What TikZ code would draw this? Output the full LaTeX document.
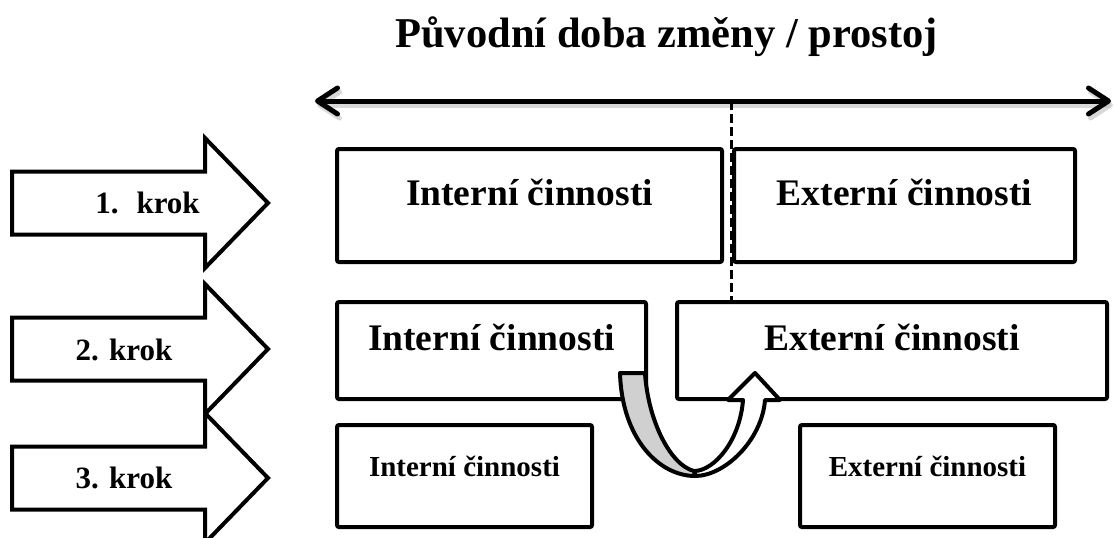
\documentclass[tikz,border=0pt]{standalone}
\usepackage{fontspec}
\setmainfont{Liberation Serif}
\usetikzlibrary{arrows.meta}
\definecolor{bandgray}{RGB}{208,208,208}
\definecolor{shadowgray}{RGB}{190,190,190}

\begin{document}
\begin{tikzpicture}[x=1pt,y=-1pt,
  box/.style={draw, line width=4pt, fill=white, rounded corners=2pt,
    inner sep=0pt, text height=0pt, text depth=0pt,
    font=\bfseries\fontsize{37.5}{40}\selectfont},
  smallbox/.style={box, font=\bfseries\fontsize{29}{32}\selectfont},
  stepshape/.style={draw, line width=4pt, fill=white, line join=miter},
  steplabel/.style={anchor=base, inner sep=0pt,
    font=\bfseries\fontsize{31}{34}\selectfont},
  barb/.tip={Straight Barb[length=20pt,width=26pt,line cap=round,line join=round]},
  timeline/.style={line width=5pt, line cap=round, barb-barb},
  divider/.style={line width=3pt, dash pattern=on 9pt off 4pt},
  band/.style={draw, line width=4pt, line join=round}
]
\path[use as bounding box] (0,0) rectangle (1114,538);

% title
\node[anchor=base, inner sep=0pt, font=\bfseries\fontsize{42.5}{48}\selectfont]
  (title) at (666.5,47) {Původní doba změny / prostoj};

% time axis with a soft shadow
\coordinate (tl) at (315,101);
\coordinate (tr) at (1111,101);
\draw[timeline, shadowgray, opacity=0.6] ([shift={(2,4)}]tl) -- ([shift={(2,4)}]tr);
\draw[timeline] (tl) -- (tr);

% step arrows
\draw[stepshape] (12,446.5) -- (205,446.5) -- (205,413) -- (268,478) -- (205,543)
  -- (205,509.5) -- (12,509.5) -- cycle;
\draw[stepshape] (12,317.5) -- (205,317.5) -- (205,284) -- (268,349) -- (205,414)
  -- (205,380.5) -- (12,380.5) -- cycle;
\draw[stepshape] (12,171.5) -- (205,171.5) -- (205,138) -- (268,203) -- (205,268)
  -- (205,234.5) -- (12,234.5) -- cycle;
\node[steplabel] (k1) at (147.5,213) {1.\hskip 18pt krok};
\node[steplabel] (k2) at (124,360) {2. krok};
\node[steplabel] (k3) at (124,488) {3. krok};

% step 1
\node[box, minimum width=385pt, minimum height=113pt] (i1) at (529.5,205.5) {Interní činnosti};
\node[box, minimum width=341pt, minimum height=113pt] (e1) at (904.5,205.5) {Externí činnosti};
% step 2
\node[box, minimum width=309pt, minimum height=97pt] (i2) at (491.5,350.5) {Interní činnosti};
\node[box, minimum width=430pt, minimum height=97pt] (e2) at (892,350.5) {Externí činnosti};
% step 3
\node[smallbox, minimum width=255pt, minimum height=102pt] (i3) at (464.5,476) {Interní činnosti};
\node[smallbox, minimum width=255pt, minimum height=102pt] (e3) at (927.5,476) {Externí činnosti};

% split between internal and external work
\coordinate (split) at (731,101);
\draw[divider] (split) -- (split |- e2.north);

% U-turn arrow moving work from internal to external
\draw[band, fill=bandgray] (620,373) -- (645,373)
  .. controls (648,420) and (670,465) .. (694,471)
  -- (695,476) .. controls (660,476) and (622,440) .. (620,373) -- cycle;
\draw[band, fill=white] (695,476) .. controls (725,476) and (762,440) .. (765,400)
  -- (780,400) -- (755,373) -- (728,400) -- (743,400)
  .. controls (740,440) and (715,470) .. (695,471) -- cycle;
\end{tikzpicture}
\end{document}
